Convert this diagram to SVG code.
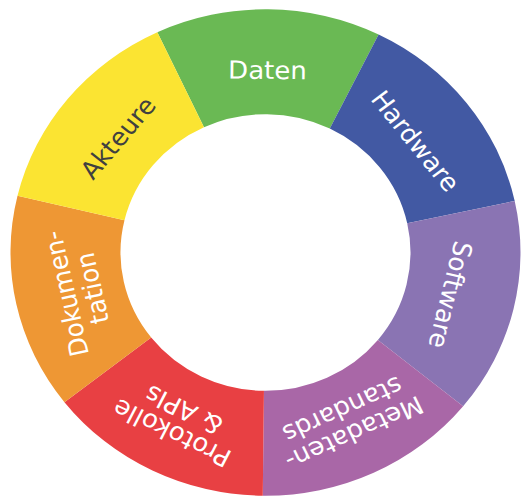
<svg xmlns="http://www.w3.org/2000/svg" width="522" height="498" viewBox="0 0 522 498">
  <style>
    .lbl { font-family: "DejaVu Sans", Verdana, sans-serif; font-size: 26px; fill: #ffffff; text-anchor: middle; }
    .dark { fill: #404040; }
  </style>
  <rect width="522" height="498" fill="#ffffff"/>
  <!-- Ring of seven equal segments, drawn as a circle and flattened slightly -->
  <g transform="translate(265.5,252.5) scale(1,0.954)">
    <g id="daten">
      <path fill="#6ab954" d="M -108.17 -230.92 A 255 255 0 0 1 113.11 -228.55 L 64.31 -129.96 A 145 145 0 0 0 -61.51 -131.31 Z"/>
      <text class="lbl" transform="translate(2,-191) rotate(0.61)" y="9">Daten</text>
    </g>
    <g id="hardware">
      <path fill="#4259a3" d="M 113.11 -228.55 A 255 255 0 0 1 249.20 -54.06 L 141.70 -30.74 A 145 145 0 0 0 64.31 -129.96 Z"/>
      <text class="lbl" transform="translate(149.8,-116.8) rotate(52.05)" y="9">Hardware</text>
    </g>
    <g id="software">
      <path fill="#8a74b3" d="M 249.20 -54.06 A 255 255 0 0 1 197.63 161.13 L 112.38 91.63 A 145 145 0 0 0 141.70 -30.74 Z"/>
      <text class="lbl" transform="translate(184.8,44.3) rotate(103.48)" y="9">Software</text>
    </g>
    <g id="metadatenstandards">
      <path fill="#a967a7" d="M 197.63 161.13 A 255 255 0 0 1 -2.72 254.98 L -1.54 144.99 A 145 145 0 0 0 112.38 91.63 Z"/>
      <text class="lbl" transform="translate(82.7,176.6) rotate(154.9)"><tspan x="0" y="-5">Metadaten-</tspan><tspan x="0" y="22">standards</tspan></text>
    </g>
    <g id="protokolle">
      <path fill="#e84043" d="M -2.72 254.98 A 255 255 0 0 1 -201.05 156.85 L -114.32 89.19 A 145 145 0 0 0 -1.54 144.99 Z"/>
      <text class="lbl" transform="translate(-87.4,176.6) rotate(206.33)"><tspan x="0" y="-5">Protokolle</tspan><tspan x="0" y="22">&amp; APIs</tspan></text>
    </g>
    <g id="dokumentation">
      <path fill="#ee9734" d="M -201.05 156.85 A 255 255 0 0 1 -247.99 -59.40 L -141.02 -33.78 A 145 145 0 0 0 -114.32 89.19 Z"/>
      <text class="lbl" transform="translate(-185.7,40.3) rotate(257.76)"><tspan x="0" y="-5">Dokumen-</tspan><tspan x="0" y="22">tation</tspan></text>
    </g>
    <g id="akteure">
      <path fill="#fbe432" d="M -247.99 -59.40 A 255 255 0 0 1 -108.17 -230.92 L -61.51 -131.31 A 145 145 0 0 0 -141.02 -33.78 Z"/>
      <text class="lbl dark" transform="translate(-147.3,-120.1) rotate(309.19)" y="9">Akteure</text>
    </g>
  </g>
</svg>
